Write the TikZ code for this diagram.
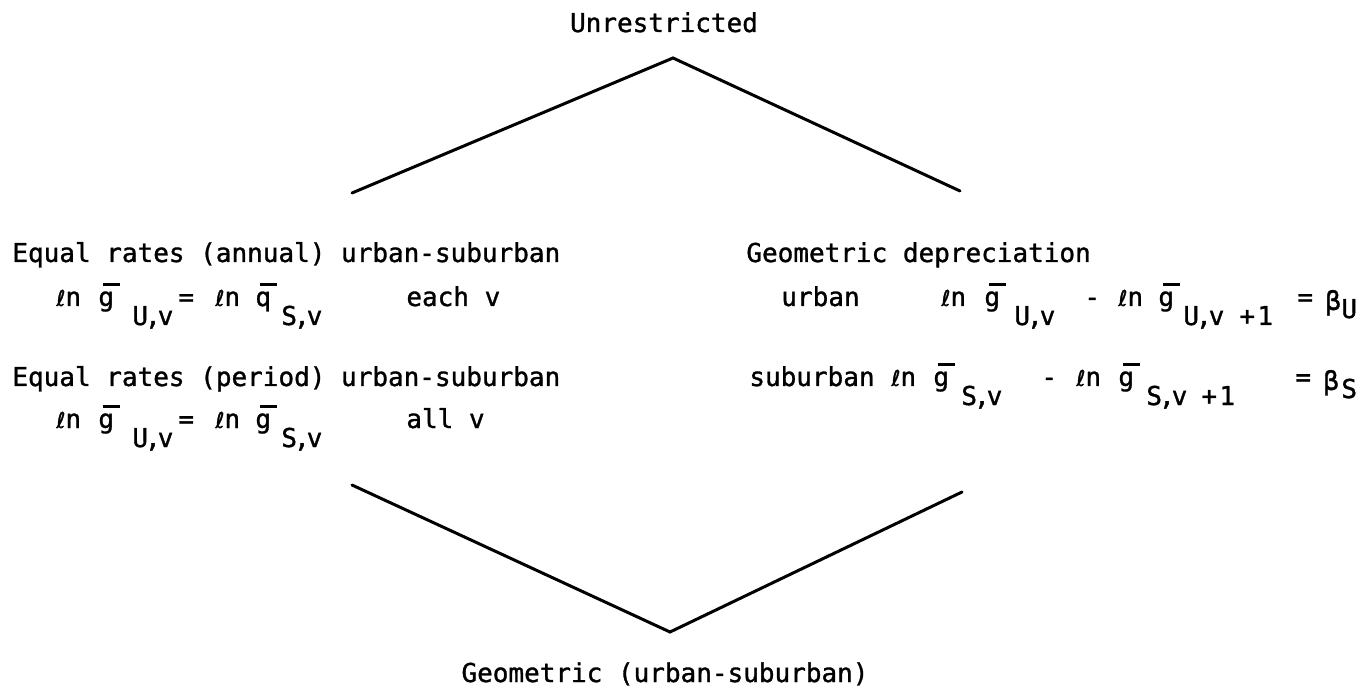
\documentclass[tikz,border=0pt]{standalone}
\usepackage{fontspec}
\setmonofont[FakeBold=1.2]{DejaVu Sans Mono}
\newfontfamily\scriptlfont[FakeBold=1.2]{DejaVu Sans}
% offsets inside an equation row are given in pixels of the 1358x689 canvas (1px = 0.5pt)
\newcommand\cell[2]{\rlap{\hspace{\dimexpr #1pt/2\relax}#2}}
\newcommand\lowr[1]{\raisebox{-9.5pt}{#1}}
\newcommand\barred[1]{\makebox[0pt][l]{\hspace{2.2pt}\raisebox{10.2pt}{\rule{8.5pt}{1.3pt}}}#1}
\newcommand\lnop{{\scriptlfont\fontsize{11pt}{13pt}\selectfont ℓ}n}
\tikzset{
  lbl/.style={anchor=base west, inner sep=0pt, font=\ttfamily\fontsize{13pt}{15pt}\selectfont},
  ctr/.style={lbl, anchor=base},
  edge/.style={line width=1.5pt, line join=miter, line cap=round}
}
\begin{document}
\begin{tikzpicture}[x=0.5pt, y=-0.5pt]
  \useasboundingbox (0,0) rectangle (1358,689);

  % top and bottom of the lattice
  \node[ctr] (unr) at (664,32) {Unrestricted};
  \node[ctr] (geo) at (665,682) {Geometric (urban-suburban)};

  % left group: equal rates
  \node[lbl] (ann) at (12,262) {Equal rates (annual) urban-suburban};
  \node[lbl] (eqa) at (0,306) {%
    \cell{55}{\lnop}\cell{97}{\barred{g}}\cell{131}{\lowr{U\kern-1.5pt,\kern-1.5pt v}}%
    \cell{177}{=}\cell{214}{\lnop}\cell{254}{\barred{q}}\cell{280}{\lowr{S\kern-1.5pt,\kern-1.5pt v}}%
    \cell{405}{each v}};
  \node[lbl] (per) at (12,386) {Equal rates (period) urban-suburban};
  \node[lbl] (eqp) at (0,428) {%
    \cell{55}{\lnop}\cell{97}{\barred{g}}\cell{131}{\lowr{U\kern-1.5pt,\kern-1.5pt v}}%
    \cell{177}{=}\cell{214}{\lnop}\cell{254}{\barred{g}}\cell{280}{\lowr{S\kern-1.5pt,\kern-1.5pt v}}%
    \cell{405}{all v}};

  % right group: geometric depreciation
  \node[lbl] (dep) at (746,262) {Geometric depreciation};
  \node[lbl] (urb) at (0,306) {%
    \cell{780}{urban}%
    \cell{940}{\lnop}\cell{983}{\barred{g}}\cell{1013}{\lowr{U\kern-1.5pt,\kern-1.5pt v}}%
    \cell{1083}{-}\cell{1117}{\lnop}\cell{1157}{\barred{g}}%
    \cell{1182}{\lowr{U\kern-1.5pt,\kern-1.5pt v}}\cell{1238}{\lowr{+}}\cell{1256}{\lowr{1}}%
    \cell{1296}{=}\cell{1324}{\raisebox{-2pt}{β}}\cell{1340}{\raisebox{-6pt}{U}}};
  \node[lbl] (sub) at (0,386) {%
    \cell{748}{suburban}%
    \cell{890}{\lnop}\cell{932}{\barred{g}}\cell{960}{\lowr{S\kern-1.5pt,\kern-1.5pt v}}%
    \cell{1040}{-}\cell{1075}{\lnop}\cell{1117}{\barred{g}}%
    \cell{1145}{\lowr{S\kern-1.5pt,\kern-1.5pt v}}\cell{1200}{\lowr{+}}\cell{1218}{\lowr{1}}%
    \cell{1294}{=}\cell{1322}{\raisebox{-2pt}{β}}\cell{1340}{\raisebox{-6pt}{S}}};

  % lattice edges
  \coordinate (topapex) at (673,58);
  \coordinate (topL) at (352,193);
  \coordinate (topR) at (960,191);
  \coordinate (botL) at (352,485);
  \coordinate (botapex) at (670,632);
  \coordinate (botR) at (962,492);
  \draw[edge] (topL) -- (topapex) -- (topR);
  \draw[edge] (botL) -- (botapex) -- (botR);
\end{tikzpicture}
\end{document}
